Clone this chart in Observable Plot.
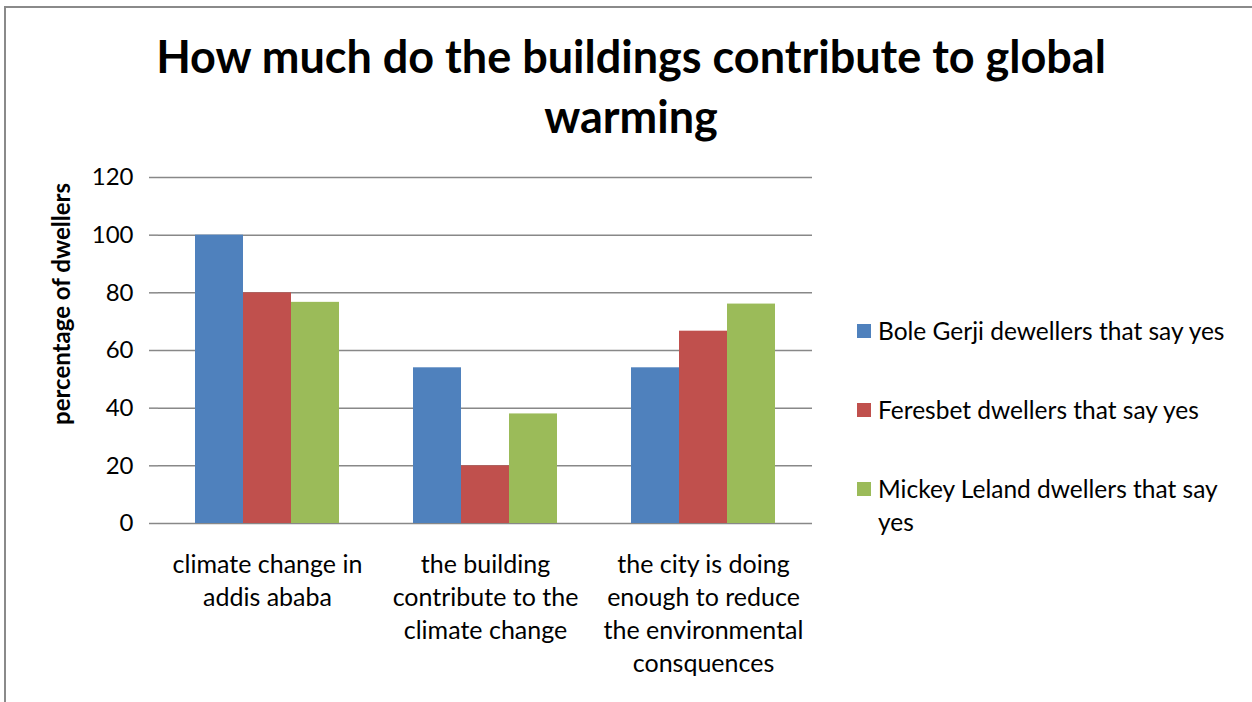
<!DOCTYPE html>
<html>
<head>
<meta charset="utf-8">
<script src="https://cdn.jsdelivr.net/npm/d3@7"></script>
<script src="https://cdn.jsdelivr.net/npm/@observablehq/plot@0.6"></script>
<style>
  body { margin: 0; background: #fff; font-family: Lato, "Open Sans", sans-serif; color: #000; }
  #page { position: relative; width: 1252px; height: 702px; overflow: hidden; background: #fff; }
  #border { position: absolute; left: 4px; top: 6px; width: 1400px; height: 900px;
            border-left: 2px solid #8a8a8a; border-top: 2px solid #8a8a8a; }
  #title { position: absolute; left: 136px; width: 990px; top: 26px; text-align: center;
           font-weight: bold; font-size: 45px; line-height: 60px; }
  #chart { position: absolute; left: 0; top: 150px; }
  #ylabel { position: absolute; left: 60px; top: 304px; transform: translate(-50%, -50%) rotate(-90deg);
            white-space: nowrap; font-weight: bold; font-size: 24px; }
  #legend { position: absolute; left: 857px; top: 314px; font-size: 24.5px; }
  .item { display: flex; align-items: flex-start; margin-bottom: 46px; line-height: 33px; }
  .swatch { width: 14px; height: 14px; margin-top: 10px; margin-right: 7px; flex: none; }
  .label { max-width: 360px; }
</style>
</head>
<body>
<div id="page">
  <div id="border"></div>
  <div id="title"></div>
  <div id="chart"></div>
  <div id="ylabel"></div>
  <div id="legend"></div>
</div>
<script>
// Survey answers per neighbourhood (percentage of dwellers answering "yes")
const categories = [
  "climate change in addis ababa",
  "the building contribute to the climate change",
  "the city is doing enough to reduce the environmental consquences"
];
const categoryLines = [
  ["climate change in", "addis ababa"],
  ["the building", "contribute to the", "climate change"],
  ["the city is doing", "enough to reduce", "the environmental", "consquences"]
];
const seriesNames = [
  "Bole Gerji dewellers that say yes",
  "Feresbet dwellers that say yes",
  "Mickey Leland dwellers that say yes"
];
const boleGerji = [100, 54, 54];
const feresbet = [80, 20, 66.7];
const mickeyLeland = [76.7, 38, 76.1];
const seriesColors = ["#4F81BD", "#C0504D", "#9BBB59"];
const yTicks = [0, 20, 40, 60, 80, 100, 120];
const titleText = "How much do the buildings contribute to global warming";
const yLabelText = "percentage of dwellers";

const seriesValues = [boleGerji, feresbet, mickeyLeland];
const rows = [];
categories.forEach((c, i) => {
  seriesNames.forEach((s, j) => rows.push({category: c, series: s, value: seriesValues[j][i]}));
});
const lineLookup = new Map(categories.map((c, i) => [c, categoryLines[i].join("\n")]));

document.getElementById("title").textContent = titleText;
document.getElementById("ylabel").textContent = yLabelText;

const chart = Plot.plot({
  width: 830,
  height: 552,
  marginLeft: 157,
  marginRight: 17,
  marginTop: 27,
  marginBottom: 179,
  style: {fontFamily: "Lato, 'Open Sans', sans-serif", fontSize: "24px", color: "#000", background: "transparent", overflow: "visible"},
  fx: {domain: categories, padding: 0, label: null, axis: null},
  x: {domain: seriesNames, paddingInner: 0, paddingOuter: 0.745, axis: null},
  y: {domain: [0, 120], label: null},
  color: {domain: seriesNames, range: seriesColors},
  marks: [
    Plot.ruleY(yTicks, {stroke: "#888888", strokeWidth: 1.5}),
    Plot.barY(rows, {fx: "category", x: "series", y: "value", fill: "series"}),
    Plot.axisY({ticks: yTicks, tickSize: 9, tickPadding: 16, stroke: "#888888", strokeWidth: 1.5,
                line: true, label: null, fontSize: 24, fill: "#000"}),
    Plot.axisFx({anchor: "bottom", tickSize: 0, tickPadding: 26, label: null, lineHeight: 1.32,
                 fontSize: 25, fill: "#000", tickFormat: (d) => lineLookup.get(d)})
  ]
});
document.getElementById("chart").appendChild(chart);

// Legend: one swatch and name per series, stacked vertically
const legend = d3.select("#legend");
seriesNames.forEach((s, j) => {
  const item = legend.append("div").attr("class", "item");
  item.append("div").attr("class", "swatch").style("background", seriesColors[j]);
  item.append("div").attr("class", "label").text(s);
});
</script>
</body>
</html>
